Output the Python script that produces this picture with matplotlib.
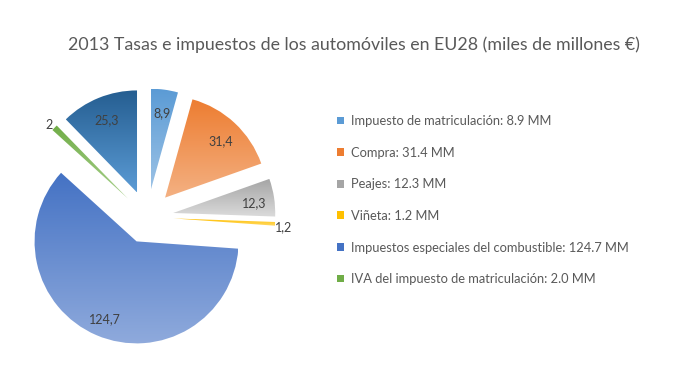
import numpy as np
import matplotlib
matplotlib.use("Agg")
import matplotlib.pyplot as plt
from matplotlib.colors import LinearSegmentedColormap
from matplotlib.patches import Patch

plt.rcParams['font.family'] = ['Lato', 'DejaVu Sans']

# slice values, clockwise from the top
values = [8.9, 31.4, 12.3, 1.2, 124.7, 2.0, 25.3]
value_labels = ["8,9", "31,4", "12,3", "1,2", "124,7", "2", "25,3"]
legend_labels = [
    "Impuesto de matriculación: 8.9 MM",
    "Compra: 31.4 MM",
    "Peajes: 12.3 MM",
    "Viñeta: 1.2 MM",
    "Impuestos especiales del combustible: 124.7 MM",
    "IVA del impuesto de matriculación: 2.0 MM",
]
title = "2013 Tasas e impuestos de los automóviles en EU28 (miles de millones €)"

# gradient top -> bottom for each slice
grad_top = ["#5B9BD5", "#ED7D31", "#A5A5A5", "#FFC000", "#4472C4", "#70AD47", "#255E91"]
grad_bot = ["#9DC3E6", "#F4B183", "#DBDBDB", "#FFD966", "#8FAADC", "#A9D18E", "#5B9BD5"]
legend_colors = ["#5B9BD5", "#ED7D31", "#A5A5A5", "#FFC000", "#4472C4", "#70AD47"]

W, H = 673, 374
fig = plt.figure(figsize=(W / 100, H / 100), dpi=100)

# pie centre ~ (147, 217) px, radius ~ 102 px
cx, cy, r_px = 147, 217, 102
half = 1.45 * r_px
ax = fig.add_axes([(cx - half) / W, (H - cy - half) / H, 2 * half / W, 2 * half / H])
ax.set_xlim(-1.45, 1.45)
ax.set_ylim(-1.45, 1.45)
ax.set_aspect('equal')
ax.axis('off')

explode = [0.26] * len(values)
wedges, _ = ax.pie(values, startangle=90, counterclock=False, explode=explode,
                   radius=1.0, wedgeprops=dict(linewidth=0))

grad = np.linspace(0, 1, 256).reshape(-1, 1)
for i, w in enumerate(wedges):
    verts = w.get_patch_transform().transform(w.get_path().vertices)
    x0, y0 = verts.min(axis=0)
    x1, y1 = verts.max(axis=0)
    cmap = LinearSegmentedColormap.from_list("g%d" % i, [grad_top[i], grad_bot[i]])
    w.set_facecolor("none")
    im = ax.imshow(grad, cmap=cmap, extent=[x0, x1, y0, y1], origin='upper',
                   aspect='auto', zorder=1)
    im.set_clip_path(w)
    ax.set_xlim(-1.45, 1.45)
    ax.set_ylim(-1.45, 1.45)

# data labels
for i, w in enumerate(wedges):
    mid = np.radians((w.theta1 + w.theta2) / 2)
    dist = 0.26 + (1.08 if values[i] < 5 else 0.8)
    ax.text(dist * np.cos(mid), dist * np.sin(mid) - 0.03, value_labels[i],
            ha='center', va='center', fontsize=9, color='#404040', zorder=3)

fig.text(354 / W, 1 - 45 / H, title, ha='center', va='center',
         fontsize=12.8, color='#595959')

handles = [Patch(facecolor=c, edgecolor='none') for c in legend_colors]
fig.legend(handles, legend_labels, loc='upper left',
           bbox_to_anchor=(337 / W, 1 - 115 / H), frameon=False,
           fontsize=9.3, labelcolor='#595959', handlelength=0.55,
           handleheight=0.55, handletextpad=0.5, labelspacing=1.52,
           borderaxespad=0, borderpad=0)

fig.savefig("out.png", dpi=100)
